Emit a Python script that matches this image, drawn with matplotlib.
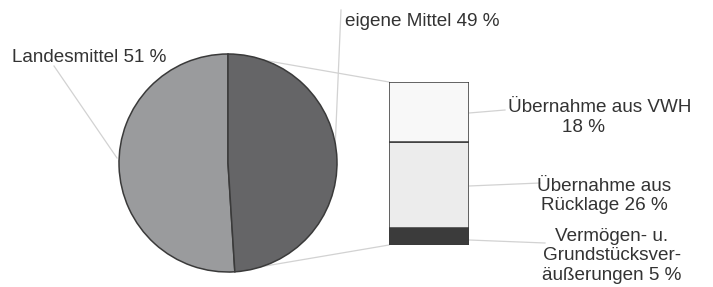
import matplotlib
matplotlib.use("Agg")
import matplotlib.pyplot as plt

plt.rcParams['font.family'] = ['Liberation Sans', 'DejaVu Sans']

# data
pie_labels = ["Landesmittel 51 %", "eigene Mittel 49 %"]
pie_values = [51, 49]
bar_labels = ["Vermögen- u.\nGrundstücksver-\näußerungen 5 %",
              "Übernahme aus\nRücklage 26 %",
              "Übernahme aus VWH"]
bar_values = [5, 26, 18]

W, H = 713, 287
fig = plt.figure(figsize=(W / 100, H / 100), dpi=100)
ax = fig.add_axes([0, 0, 1, 1])
ax.set_xlim(0, W)
ax.set_ylim(0, H)
ax.axis('off')

def Y(y):
    return H - y

cx, cy, r = 228, Y(163), 109
txt_col = '#333333'
lead_col = '#d2d2d2'
edge = '#3a3a3a'

# bar geometry (pixels)
bx0, bx1, by_top, by_bot = 389, 469, 82, 245

# connector lines (behind pie)
ax.plot([cx, bx0], [cy + r, Y(by_top)], color=lead_col, lw=0.9, zorder=0)
ax.plot([cx + 2, bx0], [cy - r, Y(by_bot)], color=lead_col, lw=0.9, zorder=0)

ax.pie(pie_values, startangle=90, counterclock=True, center=(cx, cy), radius=r,
       colors=['#9a9b9d', '#656567'],
       wedgeprops=dict(edgecolor=edge, linewidth=1.1), frame=True)
ax.set_xlim(0, W)
ax.set_ylim(0, H)
ax.set_aspect('auto')
ax.axis('off')

fs = 13.6
# pie labels
ax.plot([54, 117], [Y(66), Y(158)], color=lead_col, lw=0.9, zorder=0)
ax.text(12, Y(57), pie_labels[0], fontsize=fs, color=txt_col, va='center', ha='left')
ax.plot([341, 335], [Y(10), Y(150)], color=lead_col, lw=0.9, zorder=0)
ax.text(345, Y(22), pie_labels[1], fontsize=fs, color=txt_col, va='center', ha='left')

# stacked bar
bax = fig.add_axes([bx0 / W, (H - by_bot) / H, (bx1 - bx0) / W, (by_bot - by_top) / H])
bax.set_xlim(-0.5, 0.5)
bax.set_ylim(0, sum(bar_values))
bax.axis('off')
bar_colors = ['#3b3b3b', '#ececec', '#f8f8f8']
bottom = 0
for v, c in zip(bar_values, bar_colors):
    bax.bar(0, v, width=1.0, bottom=bottom, color=c, edgecolor=edge, linewidth=1.1)
    bottom += v

# bar labels & leaders
ax.plot([bx1, 505], [Y(113), Y(110)], color=lead_col, lw=0.9)
ax.text(600, Y(108), bar_labels[2], fontsize=fs, color=txt_col, ha='center', va='center')
ax.text(583, Y(128), "18 %", fontsize=fs, color=txt_col, ha='center', va='center')

ax.plot([bx1, 540], [Y(186), Y(183)], color=lead_col, lw=0.9)
ax.text(604, Y(196), bar_labels[1], fontsize=fs, color=txt_col, ha='center', va='center',
        linespacing=1.2)

ax.plot([bx1, 545], [Y(240), Y(243)], color=lead_col, lw=0.9)
ax.text(612, Y(256), bar_labels[0], fontsize=fs, color=txt_col, ha='center', va='center',
        linespacing=1.2)

fig.savefig("out.png", dpi=100)
